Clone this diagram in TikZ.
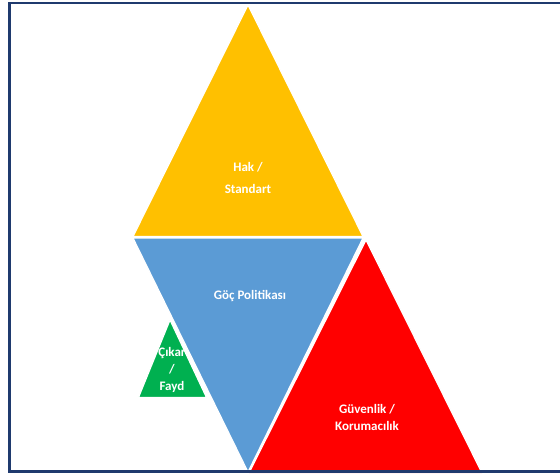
\documentclass[tikz,border=0pt]{standalone}
\usepackage{fontspec}
\setmainfont{Carlito}
\definecolor{frameblue}{HTML}{1F3A6E}
\definecolor{tyellow}{HTML}{FFC000}
\definecolor{tblue}{HTML}{5B9BD5}
\definecolor{tred}{HTML}{FF0000}
\definecolor{tgreen}{HTML}{00B050}
\begin{document}
\begin{tikzpicture}[x=1pt,y=1pt,
  tri/.style={draw=white,line width=1.2pt,line join=miter},
  lbl/.style={text=white,font=\bfseries\fontsize{13}{17}\selectfont,align=center,inner sep=0pt}]
\useasboundingbox (0,0) rectangle (560,475);
\fill[white] (0,0) rectangle (560,475);
% triangles
\filldraw[tri,fill=tyellow] (133,238.5) -- (248,470) -- (363,238.5) -- cycle;
\filldraw[tri,fill=tred] (366,235) -- (249,2) -- (482,2) -- cycle;
\filldraw[tri,fill=tblue] (133,237) -- (363,237) -- (248,3) -- cycle;
\filldraw[tri,fill=tgreen] (170,155) -- (138.5,77.5) -- (206.5,77.5) -- cycle;
% labels
\node[lbl] (hak) at (248,297) {Hak /\\[5pt]Standart};
\node[lbl] (goc) at (250,179) {Göç Politikası};
\node[lbl] (guv) at (367,58) {Güvenlik /\\Korumacılık};
\begin{scope}
\clip (170,155) -- (138.5,77.5) -- (206.5,77.5) -- cycle;
\node[lbl,anchor=north] (cik) at (172,127.5) {Çıkar\\/\\Fayd\\a};
\end{scope}
% frame
\draw[frameblue,line width=2.4pt] (9.5,3.5) rectangle (575,472);
\end{tikzpicture}
\end{document}
